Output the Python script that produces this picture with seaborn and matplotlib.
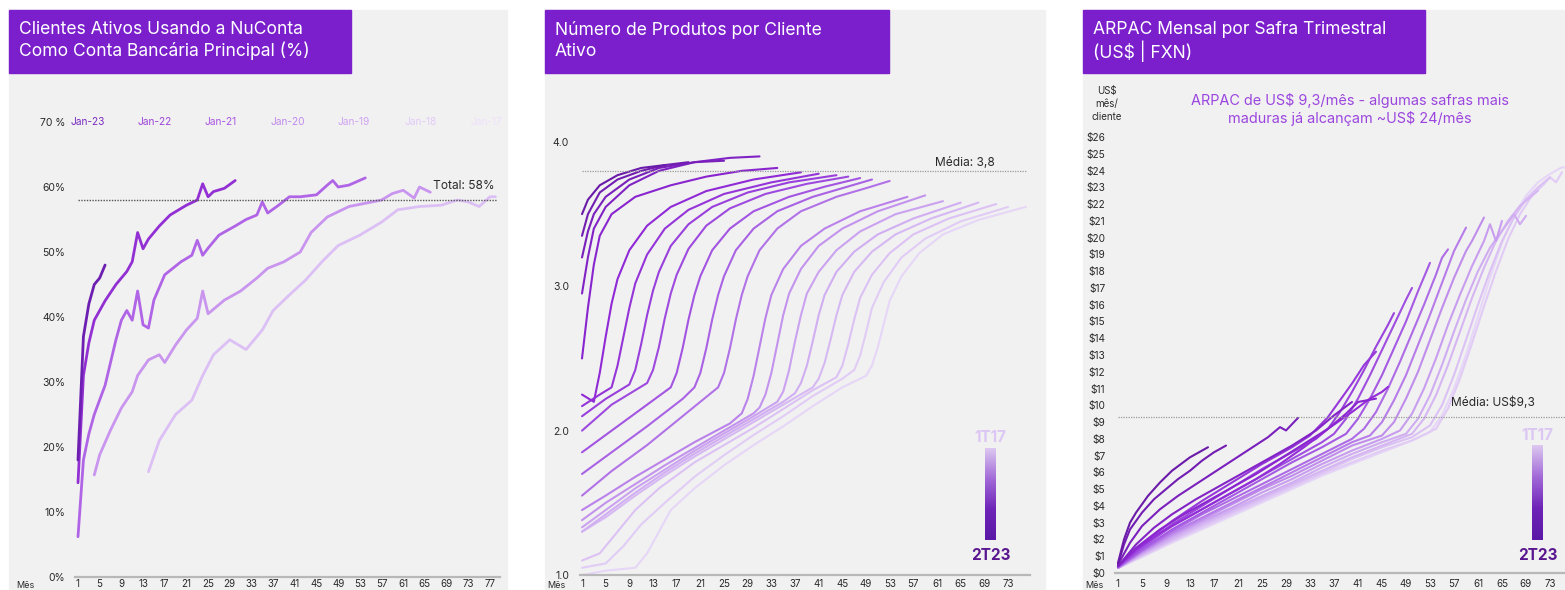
import numpy as np
import pandas as pd
import matplotlib
matplotlib.use("Agg")
import matplotlib.pyplot as plt
from matplotlib.colors import LinearSegmentedColormap, to_hex
from matplotlib.patches import Rectangle
import seaborn as sns

W, H = 1565, 590

# ---------------- Panel 1: primary-account share by yearly cohort (%)
p1_cohorts = ["Jan-23", "Jan-22", "Jan-21", "Jan-20", "Jan-19"]
p1_months = [
    [1, 2, 3, 4, 5, 6],
    [1, 2, 3, 4, 6, 8, 10, 11, 12, 13, 14, 16, 18, 21, 23, 24, 25, 26, 28, 30],
    [1, 2, 3, 4, 6, 8, 9, 10, 11, 12, 13, 14, 15, 17, 20, 22, 23, 24, 25, 27,
     30, 32, 34, 35, 36, 38, 40, 42, 45, 47, 48, 49, 51, 54],
    [4, 5, 7, 9, 11, 12, 14, 16, 17, 19, 21, 23, 24, 25, 28, 31, 34, 36, 39,
     42, 44, 47, 51, 54, 57, 59, 61, 63, 64, 66],
    [14, 16, 19, 22, 24, 26, 29, 32, 35, 37, 40, 43, 46, 49, 53, 57, 60, 64,
     68, 71, 73, 75, 77, 78],
]
p1_values = [
    [18, 37, 42, 45, 46, 48],
    [14.5, 31, 36, 39.5, 42.5, 45, 47, 48.5, 53, 50.5, 52, 54, 55.7, 57.2, 58,
     60.5, 58.5, 59.3, 59.8, 61],
    [6.2, 18, 22, 25, 29.5, 36.5, 39.5, 41, 39.5, 44, 38.8, 38.3, 42.6, 46.5,
     48.5, 49.5, 51.8, 49.5, 50.6, 52.6, 54, 55, 55.7, 57.7, 56, 57.2, 58.5,
     58.5, 58.8, 60.3, 61, 60, 60.3, 61.4],
    [15.7, 18.8, 22.6, 26, 28.5, 31, 33.4, 34.2, 33, 35.7, 38, 39.8, 44, 40.5,
     42.6, 44, 46, 47.5, 48.5, 50, 53, 55.4, 57, 57.5, 58, 59, 59.5, 58.3,
     60, 59.2],
    [16.2, 21, 25, 27.2, 31, 34.2, 36.5, 35, 38, 41, 43.4, 45.7, 48.5, 51,
     52.6, 54.6, 56.5, 57, 57.2, 58, 57.7, 57, 58.5, 58.5],
]
p1_colors = ["#6c1fb0", "#9330d4", "#b064e6", "#c995ef", "#dcc0f5"]
p1_top_labels = ["Jan-23", "Jan-22", "Jan-21", "Jan-20", "Jan-19", "Jan-18", "Jan-17"]
p1_top_colors = ["#7a2cc0", "#9c45d8", "#a955e2", "#c08aec", "#cfa3f1", "#e2cbf8", "#eee0fb"]
p1_total = 58

# ---------------- Panel 2: products per active client by quarterly cohort
# listed newest (2T23) to oldest (1T17)
prod_months = [
    [1, 2, 4, 7, 11, 15],
    [1, 2, 4, 7, 11, 15, 19],
    [1, 2, 3, 5, 9, 14, 20, 25],
    [1, 2, 3, 5, 9, 14, 20, 26, 31],
    [1, 2, 3, 4, 6, 10, 16, 22, 28, 34],
    [1, 3, 4, 5, 6, 7, 9, 12, 16, 22, 30, 38],
    [1, 4, 6, 7, 8, 9, 10, 12, 15, 19, 25, 33, 41],
    [1, 5, 9, 10, 11, 12, 13, 14, 16, 19, 23, 29, 36, 44],
    [1, 6, 12, 13, 14, 15, 16, 17, 19, 22, 26, 32, 39, 46],
    [1, 6, 12, 16, 17, 18, 19, 20, 21, 23, 26, 30, 36, 42, 48],
    [1, 6, 12, 18, 20, 21, 22, 23, 24, 25, 27, 30, 34, 40, 45, 50],
    [1, 6, 12, 18, 24, 25, 26, 27, 28, 29, 31, 34, 38, 44, 49, 53],
    [1, 5, 10, 15, 20, 26, 28, 29, 30, 31, 32, 33, 35, 38, 42, 48, 56],
    [1, 5, 10, 15, 20, 25, 30, 31, 32, 33, 34, 35, 36, 38, 41, 45, 51, 59],
    [1, 5, 10, 15, 20, 25, 30, 34, 35, 36, 37, 38, 39, 41, 44, 48, 54, 62],
    [1, 5, 10, 15, 20, 25, 30, 35, 37, 38, 39, 40, 41, 42, 44, 47, 51, 57, 65],
    [1, 5, 10, 15, 20, 25, 30, 35, 40, 41, 42, 43, 44, 45, 47, 50, 54, 60, 68],
    [1, 4, 7, 10, 14, 20, 25, 30, 35, 40, 44, 45, 46, 47, 48, 50, 53, 57, 63, 71],
    [1, 5, 8, 11, 15, 20, 25, 30, 35, 40, 45, 47, 48, 49, 50, 52, 55, 59, 65, 73],
    [1, 5, 10, 12, 14, 16, 20, 25, 30, 35, 40, 45, 49, 50, 51, 52, 53, 55, 58, 62, 68, 76],
]
prod_values = [
    [3.5, 3.6, 3.7, 3.77, 3.82, 3.84],
    [3.35, 3.5, 3.65, 3.74, 3.8, 3.84, 3.86],
    [3.2, 3.38, 3.5, 3.62, 3.74, 3.82, 3.86, 3.87],
    [2.95, 3.2, 3.4, 3.55, 3.7, 3.8, 3.86, 3.89, 3.9],
    [2.5, 2.85, 3.15, 3.35, 3.5, 3.62, 3.7, 3.76, 3.8, 3.82],
    [2.25, 2.2, 2.4, 2.65, 2.88, 3.05, 3.25, 3.42, 3.55, 3.66, 3.74, 3.79],
    [2.17, 2.25, 2.3, 2.45, 2.65, 2.85, 3.02, 3.22, 3.4, 3.53, 3.64, 3.72, 3.78],
    [2.1, 2.22, 2.32, 2.42, 2.6, 2.8, 2.97, 3.1, 3.28, 3.43, 3.55, 3.65, 3.72, 3.77],
    [2.0, 2.18, 2.33, 2.42, 2.58, 2.78, 2.95, 3.08, 3.26, 3.42, 3.54, 3.64, 3.71, 3.76],
    [1.85, 2.0, 2.18, 2.3, 2.4, 2.57, 2.77, 2.94, 3.07, 3.25, 3.4, 3.52, 3.62, 3.69, 3.75],
    [1.7, 1.85, 2.03, 2.22, 2.3, 2.4, 2.57, 2.77, 2.94, 3.07, 3.25, 3.4, 3.52, 3.62, 3.68, 3.74],
    [1.55, 1.72, 1.9, 2.1, 2.3, 2.4, 2.57, 2.77, 2.94, 3.07, 3.25, 3.4, 3.52, 3.62, 3.68, 3.73],
    [1.45, 1.55, 1.68, 1.8, 1.92, 2.05, 2.12, 2.22, 2.38, 2.58, 2.78, 2.94, 3.12, 3.28, 3.4, 3.52, 3.62],
    [1.38, 1.5, 1.63, 1.76, 1.88, 2.0, 2.12, 2.16, 2.25, 2.4, 2.6, 2.8, 2.95, 3.12, 3.28, 3.4, 3.52, 3.63],
    [1.33, 1.45, 1.6, 1.73, 1.86, 1.98, 2.1, 2.2, 2.27, 2.42, 2.62, 2.8, 2.95, 3.1, 3.25, 3.38, 3.5, 3.59],
    [1.3, 1.42, 1.57, 1.71, 1.84, 1.96, 2.08, 2.2, 2.26, 2.33, 2.45, 2.62, 2.8, 2.94, 3.1, 3.24, 3.36, 3.47, 3.58],
    [1.3, 1.4, 1.55, 1.69, 1.82, 1.94, 2.06, 2.18, 2.3, 2.36, 2.47, 2.63, 2.8, 2.94, 3.1, 3.24, 3.36, 3.47, 3.58],
    [1.1, 1.15, 1.3, 1.45, 1.6, 1.78, 1.9, 2.02, 2.15, 2.28, 2.37, 2.45, 2.6, 2.77, 2.92, 3.08, 3.23, 3.36, 3.47, 3.57],
    [1.05, 1.08, 1.2, 1.35, 1.5, 1.68, 1.83, 1.97, 2.1, 2.24, 2.36, 2.42, 2.52, 2.68, 2.85, 3.03, 3.2, 3.33, 3.45, 3.55],
    [1.0, 1.03, 1.05, 1.15, 1.3, 1.45, 1.6, 1.76, 1.9, 2.03, 2.17, 2.3, 2.38, 2.45, 2.58, 2.74, 2.9, 3.07, 3.23, 3.36, 3.46, 3.55],
]
prod_media = 3.8

# ---------------- Panel 3: monthly ARPAC by quarterly cohort (US$)
# listed newest to oldest
arpac_months = [
    [1, 2, 3, 4, 6, 8, 10, 13, 16],
    [1, 2, 3, 5, 7, 9, 11, 13, 15, 17, 19],
    [1, 3, 5, 8, 11, 14, 17, 20, 23, 26, 28, 29, 31],
    [1, 4, 7, 10, 14, 18, 22, 26, 30, 34, 37, 40],
    [1, 4, 8, 12, 16, 20, 24, 28, 32, 36, 39, 41, 44],
    [1, 4, 8, 12, 16, 20, 24, 28, 32, 36, 40, 43, 45, 46],
    [1, 5, 10, 15, 20, 25, 30, 33, 36, 38, 40, 42, 44],
    [1, 5, 10, 15, 20, 25, 30, 34, 36, 38, 40, 42, 44, 46, 47],
    [1, 5, 10, 15, 20, 25, 30, 35, 37, 39, 41, 43, 45, 47, 49, 50],
    [1, 5, 10, 15, 20, 25, 30, 35, 39, 41, 43, 45, 47, 49, 51, 53],
    [1, 5, 10, 15, 20, 25, 30, 35, 40, 42, 44, 46, 48, 50, 52, 54, 55, 56],
    [1, 5, 10, 15, 20, 25, 30, 35, 40, 43, 45, 47, 49, 51, 53, 55, 57, 58, 59],
    [1, 5, 10, 15, 20, 25, 30, 35, 40, 45, 47, 49, 51, 53, 55, 57, 59, 60, 61, 62],
    [1, 5, 10, 15, 20, 25, 30, 35, 40, 45, 48, 50, 52, 54, 56, 58, 60, 62, 63, 64, 65],
    [1, 5, 10, 15, 20, 25, 30, 35, 40, 45, 49, 51, 53, 55, 57, 59, 61, 63, 65, 67, 68, 69],
    [1, 5, 10, 15, 20, 25, 30, 35, 40, 45, 50, 52, 54, 56, 58, 60, 62, 64, 66, 68, 70, 71],
    [1, 5, 10, 15, 20, 25, 30, 35, 40, 45, 50, 53, 55, 57, 59, 61, 63, 65, 67, 69, 71, 73],
    [1, 5, 10, 15, 20, 25, 30, 35, 40, 45, 50, 54, 56, 58, 60, 62, 64, 66, 68, 70, 72, 73, 74, 75],
    [1, 5, 10, 15, 20, 25, 30, 35, 40, 45, 50, 53, 55, 57, 59, 61, 63, 65, 67, 69, 71, 73, 75, 77],
]
arpac_values = [
    [0.6, 2.0, 3.0, 3.6, 4.6, 5.4, 6.1, 6.9, 7.5],
    [0.5, 1.7, 2.6, 3.6, 4.4, 5.0, 5.6, 6.1, 6.7, 7.2, 7.6],
    [0.5, 1.8, 2.8, 3.8, 4.6, 5.3, 6.0, 6.7, 7.4, 8.1, 8.7, 8.5, 9.25],
    [0.4, 1.7, 2.7, 3.5, 4.4, 5.2, 6.0, 6.8, 7.6, 8.5, 9.4, 10.2],
    [0.4, 1.5, 2.6, 3.5, 4.3, 5.1, 5.9, 6.8, 7.7, 8.6, 9.5, 10.2, 10.4],
    [0.4, 1.4, 2.4, 3.2, 4.0, 4.8, 5.6, 6.5, 7.5, 8.6, 9.6, 10.4, 10.8, 11.1],
    [0.4, 1.7, 3.1, 4.3, 5.4, 6.5, 7.5, 8.2, 9.3, 10.3, 11.3, 12.4, 13.2],
    [0.4, 1.6, 2.9, 4.0, 5.1, 6.2, 7.2, 8.0, 8.6, 9.6, 10.8, 12.1, 13.5, 14.8, 15.5],
    [0.4, 1.5, 2.8, 3.8, 4.8, 5.8, 6.8, 7.8, 8.3, 9.2, 10.4, 11.8, 13.3, 14.8, 16.3, 17.0],
    [0.35, 1.4, 2.6, 3.6, 4.6, 5.6, 6.6, 7.5, 8.3, 9.2, 10.4, 11.8, 13.4, 15.0, 16.8, 18.5],
    [0.35, 1.35, 2.5, 3.5, 4.4, 5.3, 6.2, 7.1, 8.0, 8.6, 9.6, 11.0, 12.6, 14.3, 16.0, 17.8, 18.8, 19.3],
    [0.35, 1.3, 2.4, 3.3, 4.2, 5.1, 6.0, 6.9, 7.8, 8.2, 9.0, 10.3, 11.8, 13.6, 15.4, 17.3, 19.2, 19.9, 20.6],
    [0.3, 1.25, 2.3, 3.2, 4.1, 5.0, 5.8, 6.7, 7.6, 8.2, 9.0, 10.4, 12.0, 13.9, 15.8, 17.6, 19.2, 19.8, 20.5, 21.2],
    [0.3, 1.2, 2.2, 3.1, 3.9, 4.8, 5.6, 6.5, 7.3, 8.0, 8.5, 9.5, 11.0, 12.8, 14.8, 16.6, 18.3, 19.8, 20.8, 19.8, 21.0],
    [0.3, 1.15, 2.1, 3.0, 3.8, 4.6, 5.4, 6.3, 7.1, 7.8, 8.3, 9.2, 10.6, 12.4, 14.4, 16.3, 18.0, 19.4, 20.4, 21.4, 20.8, 21.3],
    [0.3, 1.1, 2.0, 2.9, 3.7, 4.5, 5.3, 6.1, 6.9, 7.6, 8.3, 9.2, 10.6, 12.4, 14.4, 16.4, 18.2, 19.8, 21.0, 21.9, 22.5, 22.8],
    [0.3, 1.05, 1.95, 2.8, 3.6, 4.4, 5.2, 6.0, 6.8, 7.5, 8.1, 8.8, 10.0, 11.8, 13.9, 16.0, 18.0, 19.8, 21.2, 22.3, 23.0, 23.6],
    [0.3, 1.0, 1.9, 2.7, 3.5, 4.3, 5.1, 5.9, 6.6, 7.3, 7.9, 8.6, 9.8, 11.6, 13.7, 15.9, 18.0, 19.9, 21.4, 22.5, 23.2, 23.6, 23.3, 23.9],
    [0.3, 0.95, 1.8, 2.6, 3.4, 4.2, 5.0, 5.8, 6.5, 7.2, 7.9, 8.4, 9.4, 11.0, 13.0, 15.3, 17.6, 19.7, 21.3, 22.5, 23.3, 23.8, 24.2, 24.1],
]
arpac_media = 9.3

month_ticks = list(range(1, 78, 4))

# ---------------- styling
sns.set_theme(style="white")
plt.rcParams["font.family"] = ["Inter", "DejaVu Sans"]

BG = "#f1f1f1"
HEADER = "#7b1fcc"
TXT = "#2a2a2a"
AXIS = "#b8b8b8"

cohort_cmap = LinearSegmentedColormap.from_list(
    "safra", ["#e6d6f7", "#cda6f0", "#a55ae3", "#8f27d6", "#6a1aa8"])
bar_cmap = LinearSegmentedColormap.from_list(
    "bar", ["#dcc8f0", "#a26ad8", "#6e24b8", "#5a18a6"])

fig = plt.figure(figsize=(W / 100, H / 100), dpi=100)
fig.patch.set_facecolor("white")

bg = fig.add_axes([0, 0, 1, 1], zorder=0)
bg.set_xlim(0, W)
bg.set_ylim(H, 0)
bg.axis("off")


def px_axes(left, right, bottom, top):
    ax = fig.add_axes([left / W, (H - bottom) / H, (right - left) / W, (bottom - top) / H], zorder=2)
    ax.patch.set_alpha(0)
    for s in ("left", "right", "top"):
        ax.spines[s].set_visible(False)
    ax.spines["bottom"].set_color(AXIS)
    ax.spines["bottom"].set_linewidth(1.6)
    ax.grid(False)
    return ax


def panel(left, right, header_right, title_lines, mes_x):
    bg.add_patch(Rectangle((left, 10), right - left, H - 10, color=BG, zorder=0))
    bg.add_patch(Rectangle((left, 10), header_right - left, 63, color=HEADER, zorder=1))
    for i, line in enumerate(title_lines):
        bg.text(left + 10, 30 + 21 * i, line, color="white", fontsize=12.6,
                va="center", ha="left", zorder=2)
    bg.text(mes_x, 581, "Mês", fontsize=6.5, color=TXT, va="top", zorder=2)


def long_frame(months, values, names):
    rows = []
    for name, ms, vs in zip(names, months, values):
        for m, v in zip(ms, vs):
            rows.append((name, m, v))
    return pd.DataFrame(rows, columns=["safra", "mes", "valor"])


def colorbar_legend(x, y_top, y_bot):
    grad = np.linspace(0, 1, 200).reshape(-1, 1)
    bg.imshow(grad, extent=[x, x + 11, y_bot, y_top], cmap=bar_cmap, aspect="auto",
              origin="upper", zorder=3)
    bg.text(x + 5.5, y_top - 10, "1T17", color="#dcc6f3", fontsize=11, fontweight="bold",
            ha="center", va="center", zorder=3)
    bg.text(x + 5.5, y_bot + 16, "2T23", color="#5a168f", fontsize=11, fontweight="bold",
            ha="center", va="center", zorder=3)


def finish_axes(ax, pad_x):
    ax.tick_params(axis="x", length=0, pad=pad_x, labelsize=7, colors=TXT)
    ax.set_xlabel("")
    ax.set_ylabel("")


# ================= Panel 1
panel(9, 507, 351, ["Clientes Ativos Usando a NuConta", "Como Conta Bancária Principal (%)"], 16)
ax1 = px_axes(75, 500, 577, 110)
df1 = long_frame(p1_months, p1_values, p1_cohorts)
sns.lineplot(data=df1, x="mes", y="valor", hue="safra", hue_order=p1_cohorts[::-1],
             palette=dict(zip(p1_cohorts, p1_colors)), legend=False, ax=ax1,
             linewidth=2.0, estimator=None)
ax1.set_xlim(0.447, 78.85)
ax1.set_ylim(0, 71.85)
ax1.set_xticks(month_ticks)
ax1.set_yticks(range(0, 71, 10))
ax1.set_yticklabels([f"{v}%" for v in range(0, 61, 10)] + ["70 %"])
ax1.tick_params(axis="y", length=0, pad=7, labelsize=7.5, colors=TXT)
finish_axes(ax1, 1.2)
ax1.hlines(p1_total, 1, 78.3, colors="#555555", linestyles=(0, (1, 1)), linewidth=1.0)
ax1.text(77.8, p1_total + 2.1, f"Total: {p1_total}%", ha="right", va="center",
         fontsize=8.6, color=TXT)
for i, (lab, col) in enumerate(zip(p1_top_labels, p1_top_colors)):
    ax1.text(2.8 + 12.27 * i, 70, lab, ha="center", va="center", fontsize=7.3, color=col)

# ================= Panel 2
panel(545, 1045, 889, ["Número de Produtos por Cliente", "Ativo"], 547)
ax2 = px_axes(580, 1030, 575, 130)
n2 = len(prod_months)
names2 = [f"S{i:02d}" for i in range(n2)]
pal2 = {n: to_hex(cohort_cmap(1 - i / (n2 - 1))) for i, n in enumerate(names2)}
df2 = long_frame(prod_months, prod_values, names2)
sns.lineplot(data=df2, x="mes", y="valor", hue="safra", hue_order=names2[::-1],
             palette=pal2, legend=False, ax=ax2, linewidth=1.5, estimator=None)
ax2.set_xlim(0.662, 76.71)
ax2.set_ylim(1.0, 4.083)
ax2.set_xticks(month_ticks[:-1])
ax2.set_yticks([1.0, 2.0, 3.0, 4.0])
ax2.set_yticklabels(["1.0", "2.0", "3.0", "4.0"])
ax2.tick_params(axis="y", length=0, pad=8, labelsize=7.5, colors=TXT)
finish_axes(ax2, 2.6)
ax2.hlines(prod_media, 1, 76.2, colors="#9a9a9a", linestyles=(0, (1, 1)), linewidth=0.9)
ax2.text(70.8, prod_media + 0.055, "Média: 3,8", ha="right", va="center", fontsize=8.6, color=TXT)
colorbar_legend(985, 448, 540)

# ================= Panel 3
panel(1083, 1565, 1425, ["ARPAC Mensal por Safra Trimestral", "(US$ | FXN)"], 1085)
ax3 = px_axes(1115, 1565, 573, 130)
n3 = len(arpac_months)
names3 = [f"S{i:02d}" for i in range(n3)]
pal3 = {n: to_hex(cohort_cmap(1 - i / (n3 - 1))) for i, n in enumerate(names3)}
df3 = long_frame(arpac_months, arpac_values, names3)
sns.lineplot(data=df3, x="mes", y="valor", hue="safra", hue_order=names3[::-1],
             palette=pal3, legend=False, ax=ax3, linewidth=1.5, estimator=None)
ax3.set_xlim(0.5, 75.5)
ax3.set_ylim(0, 26.42)
ax3.set_xticks(month_ticks[:-1])
ax3.set_yticks(range(0, 27))
ax3.set_yticklabels([f"${v}" for v in range(0, 27)])
ax3.tick_params(axis="y", length=0, pad=7, labelsize=7.3, colors=TXT)
finish_axes(ax3, 4.0)
ax3.hlines(arpac_media, 1, 75.5, colors="#9a9a9a", linestyles=(0, (1, 1)), linewidth=0.9)
ax3.text(70.5, arpac_media + 0.5, "Média: US$9,3", ha="right", va="bottom", fontsize=8.6, color=TXT)
colorbar_legend(1532, 445, 540)
bg.text(1107, 104, "US$\nmês/\ncliente", ha="center", va="center", fontsize=7,
        color=TXT, linespacing=1.35, zorder=3)
bg.text(1350, 110, "ARPAC de US$ 9,3/mês - algumas safras mais\nmaduras já alcançam ~US$ 24/mês",
        ha="center", va="center", fontsize=10.4, color="#9b45df", linespacing=1.25, zorder=3)

bg.set_xlim(0, W)
bg.set_ylim(H, 0)

fig.savefig("out.png", dpi=100, facecolor="white")
